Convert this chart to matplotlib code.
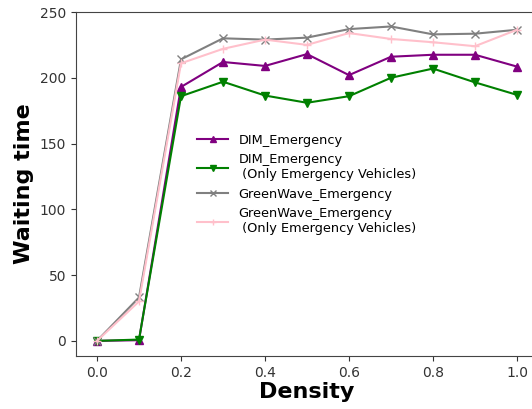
import matplotlib
matplotlib.use("Agg")
import matplotlib.pyplot as plt

density = [0.0, 0.1, 0.2, 0.3, 0.4, 0.5, 0.6, 0.7, 0.8, 0.9, 1.0]
dim_emergency = [0, 0.5, 193, 212, 209, 218, 202, 216, 217.5, 217.5, 208.5]
dim_emergency_only = [0, 1, 186, 197, 186.5, 181, 186, 200, 207, 196.5, 187]
greenwave_emergency = [0, 33, 214, 230, 229, 230.5, 237, 239, 233, 233.5, 236.5]
greenwave_emergency_only = [0, 30, 211, 222, 229, 225, 234, 229.5, 227, 224, 236.5]

labels = ["DIM_Emergency",
          "DIM_Emergency\n (Only Emergency Vehicles)",
          "GreenWave_Emergency",
          "GreenWave_Emergency\n (Only Emergency Vehicles)"]

fig = plt.figure(figsize=(5.32, 4.09), dpi=100)
ax = fig.add_axes([76/532, 53/409, 462/532, 344/409])

ax.plot(density, dim_emergency, color="purple", marker="^", label=labels[0])
ax.plot(density, dim_emergency_only, color="green", marker="v", label=labels[1])
ax.plot(density, greenwave_emergency, color="grey", marker="x", label=labels[2])
ax.plot(density, greenwave_emergency_only, color="pink", marker="+", label=labels[3])

ax.set_xlim(-0.05, 1.05)
ax.set_ylim(-11.5, 250)
ax.set_xticks([0.0, 0.2, 0.4, 0.6, 0.8, 1.0])
ax.set_yticks([0, 50, 100, 150, 200, 250])
ax.tick_params(labelsize=10, colors="#333333")
for s in ax.spines.values():
    s.set_color("#444444")

ax.set_xlabel("Density", fontsize=16, fontweight="bold", labelpad=2)
ax.set_ylabel("Waiting time", fontsize=16, fontweight="bold")

ax.legend(loc="upper left", bbox_to_anchor=(0.237, 0.68), frameon=False, fontsize=9.3,
          handlelength=2.4, labelspacing=0.5, markerscale=0.8)

fig.savefig("out.png", dpi=100)
